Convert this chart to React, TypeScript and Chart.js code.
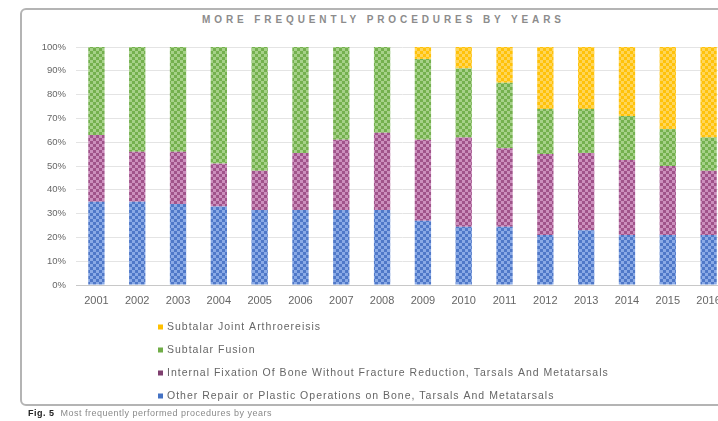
import React, { useEffect, useRef } from "react";
import { Chart, registerables } from "chart.js";

Chart.register(...registerables);

const years = ["2001", "2002", "2003", "2004", "2005", "2006", "2007", "2008", "2009", "2010", "2011", "2012", "2013", "2014", "2015", "2016"];
const otherRepair = [35, 35, 34, 33, 31.5, 31.5, 31.5, 31.5, 27, 24.5, 24.5, 21, 23, 21, 21, 21];
const internalFixation = [28, 21, 22, 18, 16.5, 24, 29.5, 32.5, 34, 37.5, 33, 34, 32.5, 31.5, 29, 27];
const subtalarFusion = [37, 44, 44, 49, 52, 44.5, 39, 36, 34, 29, 27.5, 19, 18.5, 18.5, 15.5, 14];
const arthroereisis = [0, 0, 0, 0, 0, 0, 0, 0, 5, 9, 15, 26, 26, 29, 34.5, 38];
const yTicks = [0, 10, 20, 30, 40, 50, 60, 70, 80, 90, 100];

const seriesNames = [
  "Other Repair or Plastic Operations on Bone, Tarsals And Metatarsals",
  "Internal Fixation Of Bone Without Fracture Reduction, Tarsals And Metatarsals",
  "Subtalar Fusion",
  "Subtalar Joint Arthroereisis",
];

const FONT = "'Liberation Sans', Arial, sans-serif";

function makePattern(dark: string, light: string) {
  const c = document.createElement("canvas");
  c.width = 6;
  c.height = 6;
  const x = c.getContext("2d")!;
  x.fillStyle = dark;
  x.fillRect(0, 0, 6, 6);
  x.fillStyle = light;
  x.fillRect(0, 0, 3, 3);
  x.fillRect(3, 3, 3, 3);
  const p = x.createPattern(c, "repeat");
  return p || dark;
}

const legendPlugin = {
  id: "vertLegend",
  afterDraw(chart: any) {
    const ctx = chart.ctx;
    const ds = chart.data.datasets;
    ctx.save();
    ctx.font = "10.5px " + FONT;
    (ctx as any).letterSpacing = "1px";
    ctx.textBaseline = "middle";
    const startY = 327;
    const step = 23;
    for (let i = 0; i < ds.length; i++) {
      const d = ds[ds.length - 1 - i];
      const y = startY + i * step;
      ctx.fillStyle = d.legendColor;
      ctx.fillRect(158, y - 2.5, 5, 5);
      ctx.fillStyle = "#666666";
      ctx.fillText(d.label, 167, y);
    }
    ctx.restore();
  },
};

export default function App() {
  const ref = useRef<HTMLCanvasElement>(null);
  useEffect(() => {
    const canvas = ref.current!;
    const chart = new Chart(canvas, {
      type: "bar",
      data: {
        labels: years,
        datasets: [
          { label: seriesNames[0], data: otherRepair, backgroundColor: makePattern("#4f78c8", "#8aaae6"), legendColor: "#4472c4" } as any,
          { label: seriesNames[1], data: internalFixation, backgroundColor: makePattern("#a0538a", "#cc8fbd"), legendColor: "#7f3f6f" } as any,
          { label: seriesNames[2], data: subtalarFusion, backgroundColor: makePattern("#74b04e", "#a6d189"), legendColor: "#70ad47" } as any,
          { label: seriesNames[3], data: arthroereisis, backgroundColor: makePattern("#ffc20a", "#ffd65a"), legendColor: "#ffc000" } as any,
        ],
      },
      options: {
        animation: false,
        responsive: false,
        maintainAspectRatio: false,
        layout: { padding: { top: 47, left: 0, right: 11, bottom: 0 } },
        datasets: { bar: { barPercentage: 0.4, categoryPercentage: 1 } },
        plugins: {
          legend: { display: false },
          title: { display: false },
          tooltip: { enabled: false },
        },
        scales: {
          x: {
            stacked: true,
            grid: { display: false, drawTicks: false },
            border: { display: true, color: "#c8c8c8", width: 1 },
            ticks: {
              color: "#666666",
              font: { family: FONT, size: 11 },
              padding: 9,
              maxRotation: 0,
              autoSkip: false,
            },
            afterFit(scale: any) {
              scale.height = 136;
            },
          },
          y: {
            stacked: true,
            min: 0,
            max: 100,
            afterBuildTicks(scale: any) {
              scale.ticks = yTicks.map((v) => ({ value: v }));
            },
            grid: { color: "#e4e4e4", drawTicks: false },
            border: { display: false },
            ticks: {
              color: "#666666",
              font: { family: FONT, size: 9.5 },
              padding: 10,
              callback: (v: any) => v + "%",
            },
            afterFit(scale: any) {
              scale.width = 76;
            },
          },
        },
      } as any,
      plugins: [legendPlugin],
    });
    return () => chart.destroy();
  }, []);

  return (
    <div style={{ position: "absolute", left: 0, top: 0, width: 718, height: 421, overflow: "hidden", background: "#fff" }}>
      <div
        style={{
          position: "absolute",
          left: 20,
          top: 8,
          width: 760,
          height: 398,
          border: "2px solid #b4b4b4",
          borderRadius: 6,
          boxSizing: "border-box",
        }}
      />
      <div
        style={{
          position: "absolute",
          left: 202,
          top: 14,
          whiteSpace: "nowrap",
          fontFamily: FONT,
          fontWeight: "bold",
          fontSize: 10,
          letterSpacing: "3.9px",
          color: "#8c8c8c",
          lineHeight: "12px",
        }}
      >
        MORE FREQUENTLY PROCEDURES BY YEARS
      </div>
      <canvas ref={ref} width={740} height={421} style={{ position: "absolute", left: 0, top: 0, width: 740, height: 421 }} />
      <div
        style={{
          position: "absolute",
          left: 28,
          top: 407,
          whiteSpace: "nowrap",
          fontFamily: FONT,
          fontSize: 9,
          letterSpacing: "0.5px",
          lineHeight: "12px",
          color: "#8a8a8a",
        }}
      >
        <b style={{ color: "#222" }}>Fig. 5</b>&nbsp;&nbsp;Most frequently performed procedures by years
      </div>
    </div>
  );
}
